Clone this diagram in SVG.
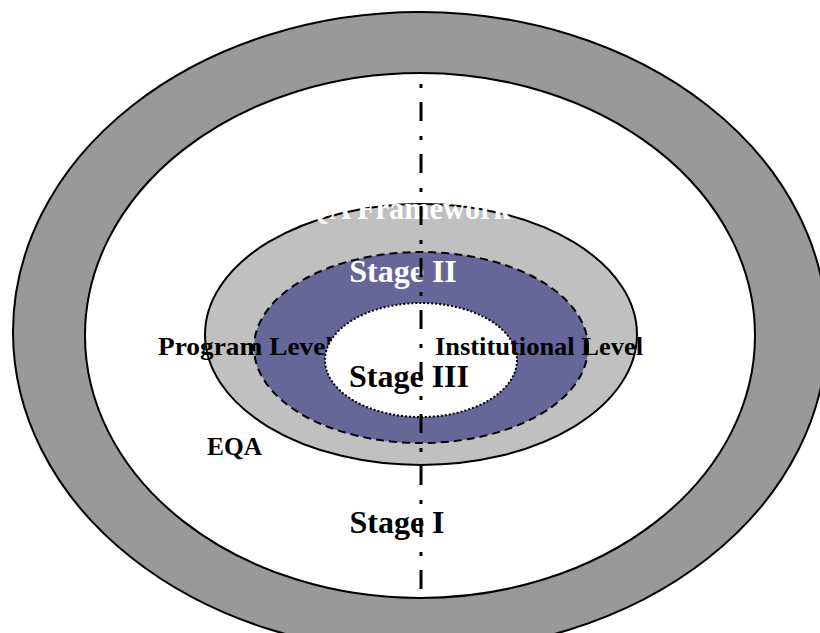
<svg xmlns="http://www.w3.org/2000/svg" width="820" height="633" viewBox="0 0 820 633">
<style>
.ring{stroke:#000;stroke-width:2}
.t{font-family:"Liberation Serif","Times New Roman",serif;font-weight:bold}
</style>
<rect width="820" height="633" fill="#fff"/>
<g id="stage1-outer"><ellipse class="ring" cx="420" cy="332" rx="407" ry="320" fill="#999999"/></g>
<g id="stage1"><ellipse class="ring" cx="420" cy="335.5" rx="335" ry="262.5" fill="#fff"/></g>
<g id="qa-framework"><ellipse class="ring" cx="421" cy="334.5" rx="216" ry="130.5" fill="#c0c0c0"/></g>
<g id="stage2"><ellipse cx="421" cy="347.5" rx="167" ry="95.5" fill="#666699" stroke="#000" stroke-width="2" stroke-dasharray="8 5"/></g>
<text class="t" x="158" y="355" font-size="25" textLength="175" lengthAdjust="spacingAndGlyphs">Program Level</text>
<g id="stage3"><ellipse cx="421" cy="360" rx="96" ry="57" fill="#fff" stroke="#000" stroke-width="2" stroke-dasharray="2 2"/></g>
<g id="labels">
<text class="t" x="408" y="219" font-size="32" fill="#fff" text-anchor="middle" textLength="205" lengthAdjust="spacingAndGlyphs">QA Framework</text>
<text class="t" x="403" y="282" font-size="32" fill="#fff" text-anchor="middle">Stage II</text>
<text class="t" x="435" y="355" font-size="25" textLength="208" lengthAdjust="spacingAndGlyphs">Institutional Level</text>
<text class="t" x="409" y="387" font-size="32" text-anchor="middle">Stage III</text>
<text class="t" x="207" y="455" font-size="25" textLength="55" lengthAdjust="spacingAndGlyphs">EQA</text>
<text class="t" x="397" y="533" font-size="32" text-anchor="middle">Stage I</text>
</g>
<g id="connectors"><line x1="421" y1="84" x2="421" y2="602" stroke="#000" stroke-width="3" stroke-dasharray="4 14 19 15"/></g>
</svg>
